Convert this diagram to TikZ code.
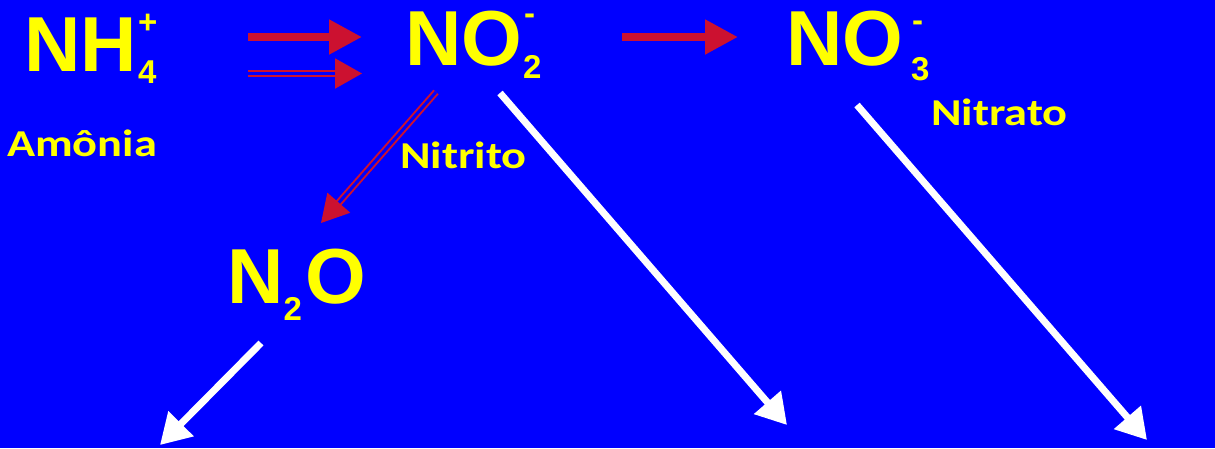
\documentclass[tikz,border=0pt]{standalone}
\usepackage{fontspec}
\setmainfont{Liberation Sans}
\newfontfamily\lblfont{Carlito}
\usetikzlibrary{arrows.meta}
\definecolor{bgblue}{RGB}{0,0,255}
\definecolor{arrred}{RGB}{204,17,48}
\definecolor{txtyellow}{RGB}{255,255,0}
\tikzset{
  formula/.style={inner sep=0pt, text=txtyellow, font=\bfseries\fontsize{78}{78}\selectfont, anchor=base west},
  idx/.style={inner sep=0pt, text=txtyellow, font=\bfseries\fontsize{33}{33}\selectfont, anchor=base west},
  lbl/.style={inner sep=0pt, text=txtyellow, font=\lblfont\bfseries\fontsize{38}{38}\selectfont, anchor=base west},
  redthick/.style={draw=arrred, line width=8pt, -{Triangle[length=33pt, width=33pt]}},
  reddouble/.style={draw=arrred, line width=2pt, double=bgblue, double distance=3pt, -{Triangle[length=27pt, width=30pt, fill=arrred]}},
  whitearrow/.style={draw=white, line width=7pt, -{Triangle[length=30pt, width=34pt]}},
}
\begin{document}
\begin{tikzpicture}[x=1pt, y=-1pt]
\useasboundingbox (0,0) rectangle (1215,448);
\fill[bgblue] (0,0) rectangle (1215,448);
% formulas
\node[formula] (nh) at (24,71) {NH};
\node[idx] (nhsub) at (138,83) {4};
\node[idx] (nhsup) at (138,33.5) {+};
\node[formula] (no2) at (405,65) {NO};
\node[idx] (no2sub) at (523,78) {2};
\node[idx] (no2sup) at (524,24) {-};
\node[formula] (no3) at (786,65) {NO};
\node[idx] (no3sub) at (911,80) {3};
\node[idx] (no3sup) at (912,31) {-};
\node[formula] (n2o) at (227,303) {N};
\node[idx] (n2osub) at (283.5,320) {2};
\node[formula] (n2oO) at (305,303) {O};
% labels
\node[lbl] (amonia) at (7,156) {\scalebox{1.22}[1]{Amônia}};
\node[lbl] (nitrito) at (400,168) {\scalebox{1.22}[1]{Nitrito}};
\node[lbl] (nitrato) at (931,125) {\scalebox{1.22}[1]{Nitrato}};
% arrow end points
\coordinate (a1s) at (248,37);   \coordinate (a1e) at (362,37);
\coordinate (a2s) at (248,73.5); \coordinate (a2e) at (362,73.5);
\coordinate (a3s) at (622,37);   \coordinate (a3e) at (738,37);
\coordinate (a4s) at (436,92);   \coordinate (a4e) at (321,223);
\coordinate (w1s) at (261,343);  \coordinate (w1e) at (160,445);
\coordinate (w2s) at (500,93);   \coordinate (w2e) at (787,425);
\coordinate (w3s) at (857,105);  \coordinate (w3e) at (1147,440);
% arrows
\draw[redthick] (a1s) -- (a1e);
\draw[reddouble] (a2s) -- (a2e);
\draw[redthick] (a3s) -- (a3e);
\draw[reddouble] (a4s) -- (a4e);
\draw[whitearrow] (w1s) -- (w1e);
\draw[whitearrow] (w2s) -- (w2e);
\draw[whitearrow] (w3s) -- (w3e);
\end{tikzpicture}
\end{document}
